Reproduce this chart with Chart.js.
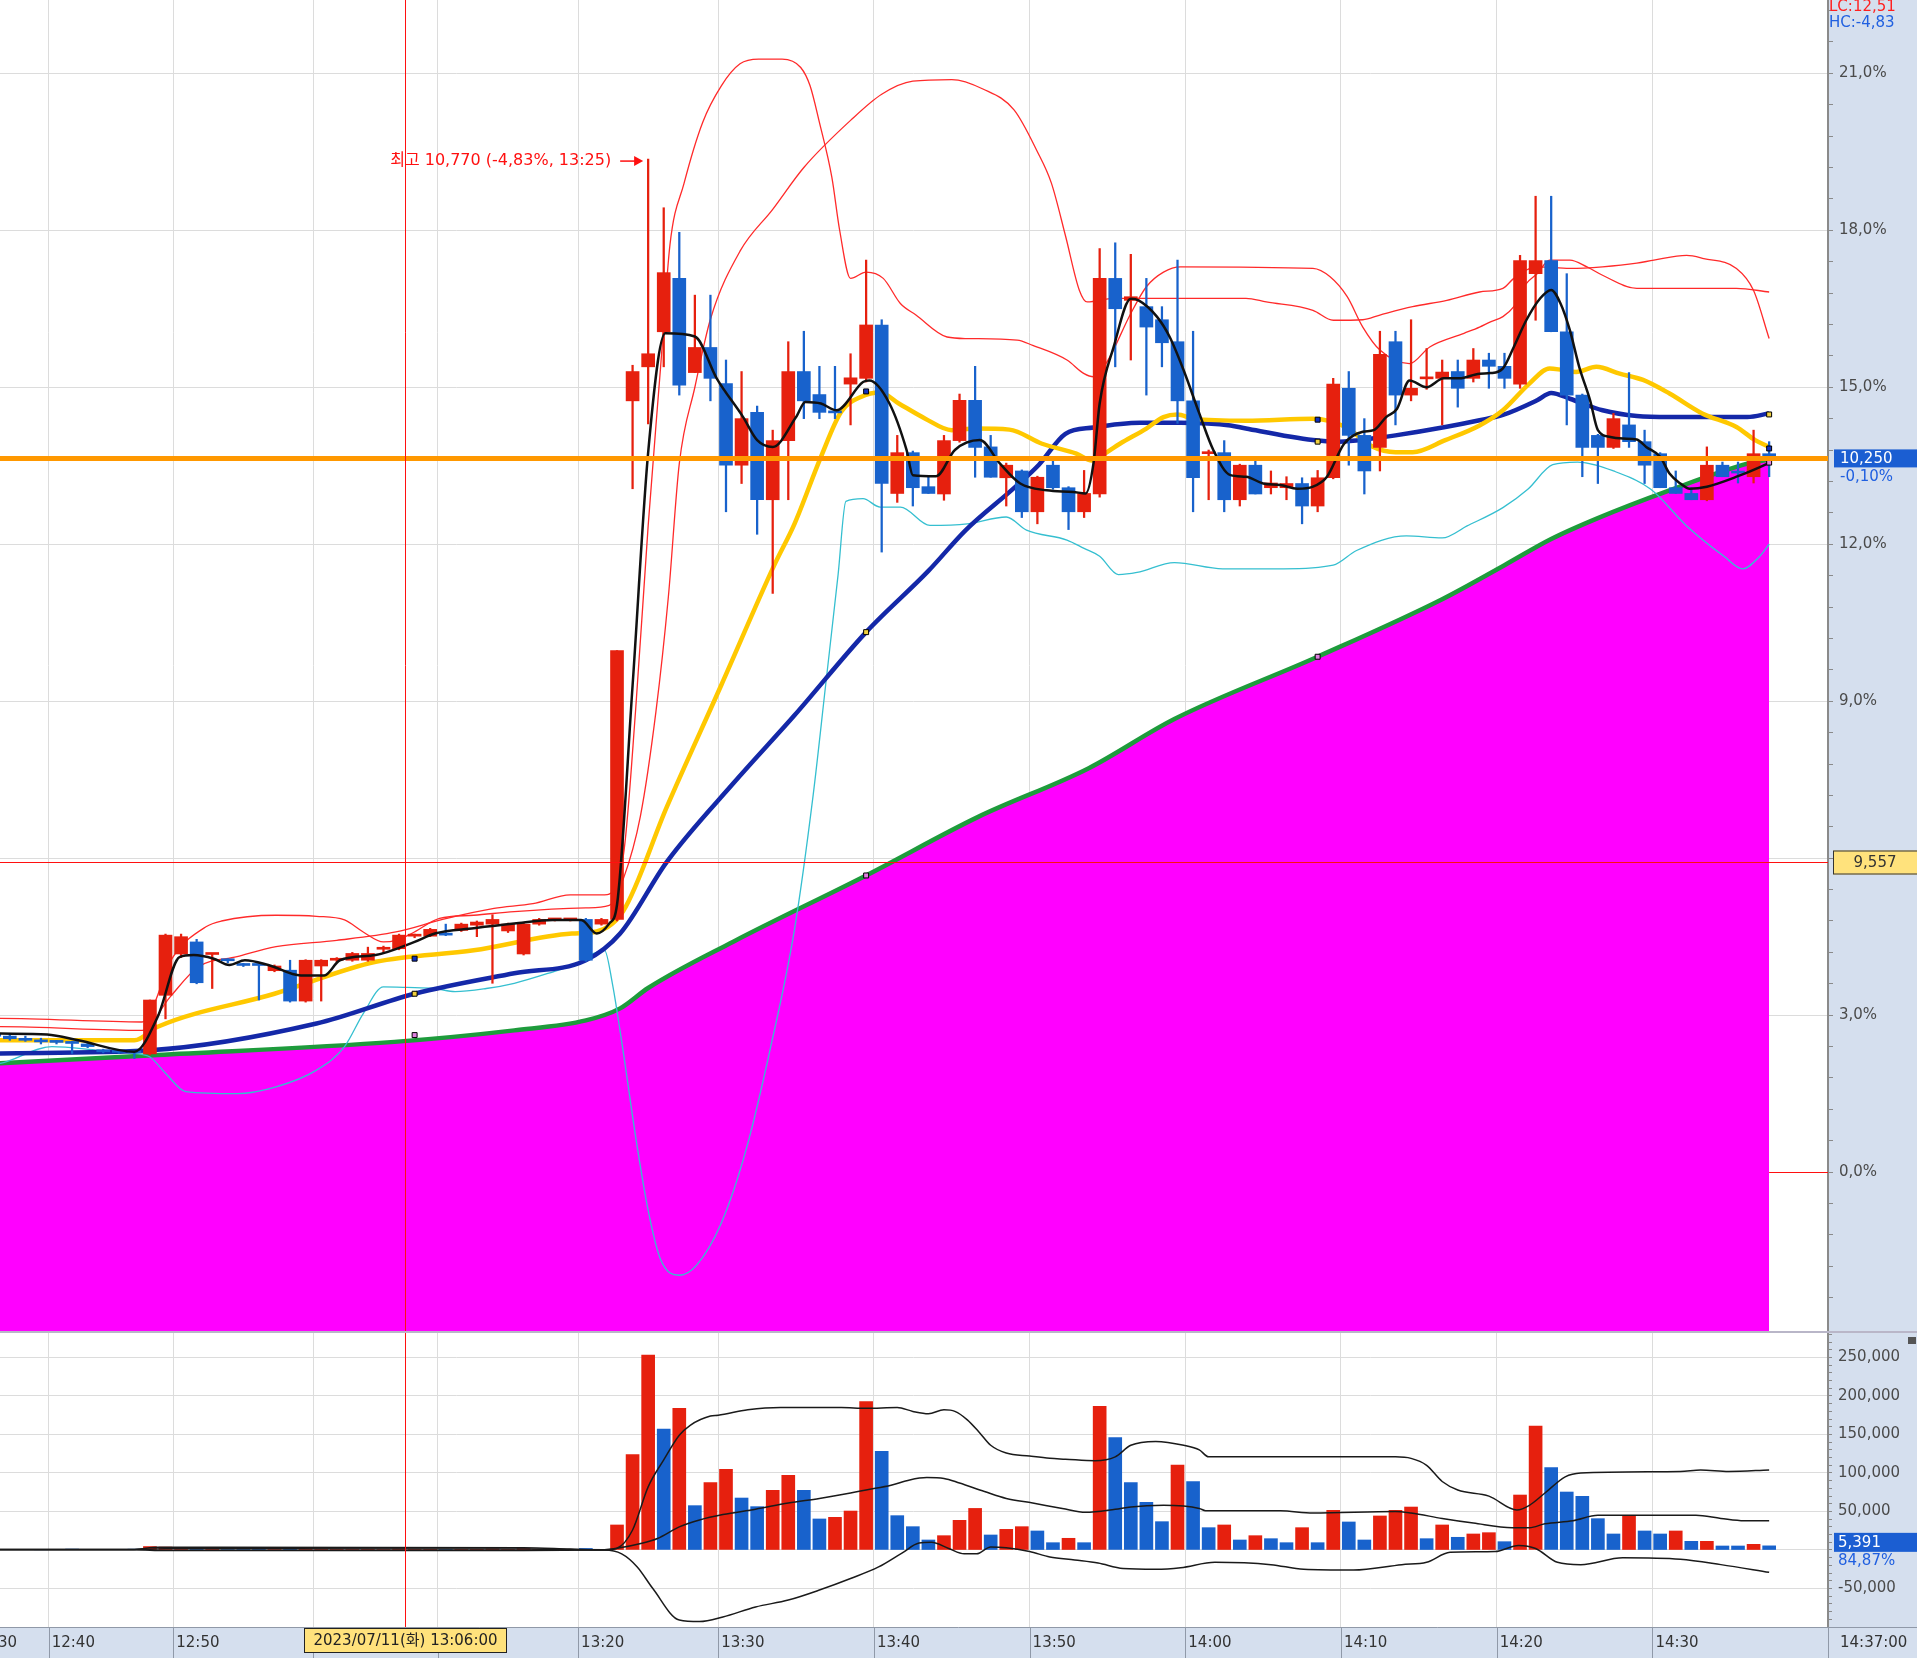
<!DOCTYPE html>
<html lang="ko">
<head>
<meta charset="utf-8">
<title>분봉 차트</title>
<script src="https://cdn.jsdelivr.net/npm/chart.js@4.4.1/dist/chart.umd.min.js"></script>
<style>
  html, body { margin: 0; padding: 0; background: #d5dfee; }
  body { width: 1917px; height: 1658px; overflow: hidden; position: relative; }
  canvas { position: absolute; left: 0; display: block; }
  #price { top: 0; }
  #volume { top: 1331px; }
</style>
</head>
<body>
<canvas id="price" width="1917" height="1331"></canvas>
<canvas id="volume" width="1917" height="327"></canvas>
<script>
// 1-minute candles, values in % on the chart's price axis
const times = [
  '12:30','12:32','12:34','12:36','12:38',
  '12:40','12:41','12:43','12:44','12:45','12:46','12:47','12:48',
  '12:50','12:51','12:52','12:53','12:54','12:55','12:56','12:57','12:59',
  '13:00','13:01','13:02','13:04','13:05','13:06','13:07','13:09',
  '13:10','13:11','13:12','13:13','13:14','13:15','13:17','13:18','13:19',
  '13:20','13:21','13:23','13:24','13:25','13:26','13:27','13:28','13:29',
  '13:30','13:31','13:32','13:33','13:34','13:35','13:36','13:37','13:38','13:39',
  '13:40','13:41','13:42','13:43','13:44','13:45','13:46','13:47','13:48','13:49',
  '13:50','13:51','13:52','13:53','13:54','13:55','13:56','13:57','13:58','13:59',
  '14:00','14:01','14:02','14:03','14:04','14:05','14:06','14:07','14:08','14:09',
  '14:10','14:11','14:12','14:13','14:14','14:15','14:16','14:17','14:18','14:19',
  '14:20','14:21','14:22','14:23','14:24','14:25','14:26','14:27','14:28','14:29',
  '14:30','14:31','14:32','14:33','14:34','14:35','14:36','14:37'
];

const openP = [
  2.60,2.62,2.60,2.55,2.52,2.50,2.49,2.45,2.33,2.31,2.30,2.26,3.38,4.17,4.40,4.16,4.06,3.97,3.97,3.85,
  3.86,3.27,3.94,4.05,4.05,4.05,4.26,4.27,4.51,4.51,4.56,4.62,4.72,4.74,4.61,4.17,4.74,4.82,4.82,4.83,
  4.74,4.83,
  14.74,15.39,16.06,17.08,15.28,15.76,15.07,13.51,14.52,12.85,13.98,15.30,14.86,14.53,15.06,15.17,16.19,12.97,
  13.75,13.10,12.96,13.98,14.75,13.86,13.27,13.40,12.62,13.51,13.08,12.62,12.96,17.08,16.66,16.54,16.29,15.87,
  14.74,13.73,13.75,12.85,13.51,13.08,13.08,13.16,12.73,13.27,14.98,14.08,13.85,15.87,14.85,15.16,15.17,15.30,
  15.17,15.52,15.40,15.06,17.17,17.42,16.06,14.85,14.08,13.85,14.28,13.96,13.73,13.08,12.97,12.85,13.51,13.38,
  13.29,13.73
];
const highP = [
  2.66,2.68,2.64,2.60,2.56,2.52,2.50,2.47,2.35,2.33,2.31,3.29,4.55,4.55,4.45,4.18,4.08,3.99,3.98,3.96,
  4.05,4.06,4.06,4.10,4.20,4.30,4.32,4.55,4.55,4.66,4.74,4.76,4.80,4.92,4.76,4.76,4.85,4.85,4.85,4.85,
  4.85,9.97,
  15.42,19.36,18.43,17.96,16.76,16.76,15.52,15.30,14.64,14.18,15.87,16.07,15.40,15.40,15.64,17.43,16.29,14.08,
  13.78,13.29,14.08,14.87,15.40,14.08,13.55,13.42,13.30,13.60,13.10,13.41,17.65,17.76,17.54,17.08,16.54,17.43,
  16.07,13.80,13.98,13.53,13.61,13.40,13.29,13.27,13.41,15.17,15.30,14.40,16.07,16.07,16.29,15.74,15.52,15.52,
  15.74,15.65,15.65,17.52,18.65,18.65,17.17,14.87,14.10,14.50,15.28,14.18,13.75,13.40,13.08,13.86,13.57,13.57,
  14.18,13.96
];
const lowP = [
  2.55,2.56,2.52,2.50,2.45,2.45,2.27,2.38,2.28,2.27,2.17,2.24,2.93,4.10,3.60,3.51,4.00,3.93,3.29,3.83,
  3.25,3.25,3.27,4.02,4.03,4.03,4.20,4.25,4.48,4.50,4.52,4.60,4.50,3.61,4.58,4.15,4.72,4.80,4.80,4.03,
  4.72,4.80,
  13.06,14.30,15.39,14.85,15.28,14.74,12.62,13.16,12.19,11.06,12.85,14.40,14.40,14.40,14.28,15.10,11.85,12.80,
  12.73,12.97,12.84,13.95,13.28,13.28,12.73,12.51,12.39,13.05,12.28,12.51,12.90,15.39,15.52,14.85,15.39,14.31,
  12.62,12.85,12.62,12.73,12.96,12.96,12.85,12.39,12.62,13.25,13.51,12.96,13.40,14.28,14.74,14.96,14.28,14.62,
  15.10,14.98,14.98,14.98,16.28,16.06,14.28,13.29,13.16,13.83,13.85,13.16,13.08,12.97,12.85,12.83,13.29,13.17,
  13.17,13.29
];
const closeP = [
  2.62,2.60,2.55,2.52,2.49,2.48,2.46,2.40,2.30,2.29,2.28,3.29,4.53,4.50,3.62,4.17,4.04,3.95,3.95,3.94,
  3.27,4.05,4.05,4.08,4.18,4.18,4.28,4.53,4.53,4.64,4.53,4.74,4.78,4.83,4.74,4.74,4.83,4.83,4.83,4.05,
  4.83,9.97,
  15.30,15.64,17.19,15.04,15.76,15.17,13.51,14.40,12.85,13.98,15.30,14.74,14.52,14.51,15.18,16.19,13.16,13.75,
  13.08,12.97,13.98,14.75,13.85,13.28,13.51,12.62,13.28,13.08,12.62,12.97,17.08,16.50,16.73,16.15,15.85,14.74,
  13.27,13.76,12.85,13.51,12.96,13.17,13.16,12.73,13.27,15.06,14.08,13.40,15.63,14.85,14.98,15.19,15.29,14.98,
  15.52,15.40,15.17,17.42,17.42,16.06,14.85,13.85,13.85,14.40,13.96,13.51,13.08,12.97,12.85,13.51,13.29,13.36,
  13.73,13.64
];
const volume = [
  600,500,400,700,300,800,1200,400,900,500,1100,4500,3800,1600,2200,900,600,500,1300,700,
  1900,1700,900,500,800,900,600,1400,500,900,700,800,1000,1500,600,1800,700,400,500,2000,
  900,
  32500,124000,253000,157000,184000,57600,87400,104800,67500,56300,77500,97000,77500,40300,42400,50600,192600,128000,
  44600,30300,13000,18600,38500,54000,19500,26800,30300,24700,9500,15200,9500,186600,145900,87400,61900,36800,
  110400,89000,29000,32500,13000,18600,14700,9500,29000,9500,51500,36400,13000,44200,51500,55800,14700,32500,
  16500,20800,22500,10800,71400,161000,107000,75300,69700,40700,20800,45000,24700,20800,24700,11300,11300,5200,
  5200,7400,5391
];
const volDir = [
  1,-1,-1,-1,-1,-1,-1,-1,-1,-1,-1,1,1,1,-1,1,-1,-1,-1,1,
  -1,1,1,1,1,1,1,1,1,1,-1,1,1,1,1,1,1,1,1,-1,
  1,
  1,1,1,-1,1,-1,1,1,-1,-1,1,1,-1,-1,1,1,1,-1,
  -1,-1,-1,1,1,1,-1,1,1,-1,-1,1,-1,1,-1,-1,-1,-1,
  1,-1,-1,1,-1,1,-1,-1,1,-1,1,-1,-1,1,1,1,-1,1,
  -1,1,1,-1,1,1,-1,-1,-1,-1,-1,1,-1,-1,1,-1,1,-1,
  -1,1,-1
];

// indicator lines as [candle index, value]
const maShort = [[-1,2.66],[0.4,2.65],[3.4,2.63],[5.4,2.52],[9,2.30],[10.5,2.97],[11.9,4.11],[12.8,4.15],[14.1,4.08],[15.1,3.96],[16.1,4.05],[17.6,3.96],[19.7,3.76],[21.2,3.76],[22.2,4.05],[24.5,4.15],[27,4.40],[28.3,4.56],[30.8,4.66],[33.4,4.75],[35.9,4.82],[37.7,4.82],[38.7,4.56],[39.5,4.75],[40,5.11],[41,9.3],[42,13.75],[43.1,16.03],[45,15.97],[46.4,15.17],[48.1,14.43],[49,13.99],[50,13.86],[51.5,14.43],[52.1,14.72],[53.1,14.69],[54.1,14.56],[55.8,15.10],[56.2,15.13],[57.5,14.69],[58.6,13.80],[59,13.32],[60.5,13.30],[61.7,13.80],[63.3,13.99],[64.6,13.54],[65.9,13.16],[67.6,13.03],[69.3,13.0],[70.1,12.97],[70.6,13.54],[71,14.69],[71.9,15.77],[73,16.69],[73.5,16.66],[74.7,16.34],[75.5,15.96],[76.4,15.32],[77.4,14.5],[78.3,13.8],[79.4,13.32],[80.4,13.29],[81.5,13.16],[82.6,13.13],[83.7,13.06],[84.7,13.10],[85.6,13.29],[86.7,13.92],[87.9,14.15],[88.6,14.18],[89.4,14.43],[90.1,14.59],[90.9,15.13],[92,15.0],[93.1,15.17],[94.1,15.17],[95.4,15.26],[96.1,15.27],[96.9,15.36],[97.6,15.77],[98.4,16.28],[99.3,16.70],[100,16.86],[100.6,16.6],[101.2,16.09],[101.8,15.39],[102.5,14.75],[103,14.18],[103.8,14.05],[104.6,14.02],[105.5,14.0],[106.1,13.86],[107,13.67],[107.6,13.35],[108.3,13.16],[108.9,13.06],[110,13.1],[112,13.3],[114,13.55]];
const maMid = [[-1,2.52],[0.4,2.52],[9,2.52],[10.5,2.78],[18,3.41],[24.5,4.02],[30.8,4.24],[37.1,4.56],[38.7,4.6],[40.4,4.99],[43.2,6.98],[46.7,9.31],[50.1,11.6],[51.4,12.39],[53.1,13.67],[54.4,14.53],[55.7,14.82],[56.9,14.9],[58.1,14.69],[59.8,14.4],[61.5,14.18],[63,14.21],[65.2,14.19],[67.3,13.92],[69.5,13.73],[70.5,13.6],[71,13.67],[72.3,13.92],[74,14.21],[75.1,14.43],[76,14.48],[77,14.4],[80.4,14.36],[84.7,14.4],[86.8,14.24],[88.5,13.87],[90,13.76],[91.1,13.76],[93.2,13.99],[95.4,14.27],[96.9,14.56],[98.6,15.07],[99.9,15.36],[100.7,15.33],[101.6,15.29],[102.9,15.39],[104.4,15.26],[105.9,15.14],[107.6,14.88],[109.7,14.5],[111.9,14.24],[113.1,13.99],[114,13.86]];
const maLong = [[-1,2.26],[0.4,2.27],[10,2.33],[20.7,2.84],[27,3.41],[33.4,3.80],[38,4.05],[40.2,4.56],[43.2,5.93],[47.5,7.44],[51.4,8.73],[56,10.32],[60,11.49],[62.4,12.27],[65.6,13.1],[67.1,13.52],[68.8,14.11],[70.6,14.23],[73.6,14.32],[76.2,14.32],[79.4,14.27],[80.4,14.21],[84.7,13.99],[86.4,13.96],[88.5,14.02],[90,14.08],[93.2,14.24],[95.4,14.37],[96.9,14.47],[99.1,14.75],[100,14.89],[101.2,14.78],[103.3,14.56],[105.5,14.45],[107.6,14.43],[112.6,14.43],[114,14.50]];
const maTrend = [[-1,2.06],[0.4,2.08],[10.5,2.24],[25.7,2.49],[33.4,2.71],[38,2.9],[40.2,3.13],[42,3.52],[47.5,4.41],[56,5.67],[63.2,6.79],[70.3,7.72],[75.8,8.66],[85,9.85],[93,10.95],[97,11.6],[100,12.1],[103,12.5],[107.6,13.03],[112.6,13.54],[114,13.62]];
const bandA = [[-1,2.78],[0.4,2.78],[9.5,2.71],[11.3,3.35],[13.1,3.92],[15.6,4.12],[18.1,4.31],[22,4.43],[25.8,4.59],[28.8,4.83],[32.1,5.04],[34.6,5.13],[37,5.3],[39.2,5.3],[40.4,6.04],[41.2,8.85],[42,12.35],[42.8,15.39],[43.4,17.72],[44.3,18.89],[45.5,20.06],[46.7,20.76],[47.9,21.18],[49.1,21.27],[50.6,21.27],[51.8,21.11],[52.4,20.76],[53,20.06],[53.8,19.01],[54.3,18.0],[55,17.08],[56,17.2],[57.1,17.08],[58.2,16.6],[59.2,16.38],[61.2,15.96],[62.5,15.93],[65.7,15.90],[66.7,15.80],[68.9,15.52],[70,15.26],[70.6,15.20],[71.4,15.45],[73,16.41],[74,16.92],[75.1,17.2],[76.2,17.3],[84.7,17.27],[85.8,17.11],[86.9,16.73],[87.9,16.15],[89,15.71],[90.9,15.45],[92.2,15.77],[94.4,16.03],[95.4,16.15],[96.1,16.25],[96.9,16.35],[97.6,16.54],[98.4,16.98],[99.1,17.17],[99.9,17.43],[101.2,17.43],[102.3,17.3],[103.3,17.14],[105.5,16.89],[107.6,16.89],[111.9,16.89],[114,16.82]];
const bandB = [[-1,2.94],[0.4,2.94],[9.5,2.87],[11.5,4.12],[13.6,4.69],[14.6,4.80],[18.1,4.91],[20.7,4.89],[22.5,4.82],[23.7,4.59],[25,4.40],[25.8,4.43],[26.8,4.56],[28.6,4.85],[30.8,4.91],[33.4,4.98],[38,5.05],[39.5,5.1],[40.4,5.6],[41.5,6.8],[42.5,8.8],[43.3,11.0],[44,13.54],[45,15.0],[46,16.3],[47.9,17.6],[50,18.4],[52,19.2],[55,20.1],[57,20.6],[59,20.85],[61.5,20.88],[63.5,20.7],[65.5,20.3],[67,19.5],[67.9,18.9],[68.8,17.9],[69.7,16.85],[70.2,16.63],[71.9,16.7],[80.4,16.7],[81.7,16.63],[84.7,16.47],[86,16.28],[87.9,16.29],[89,16.38],[91.1,16.54],[93.3,16.66],[95.4,16.82],[96.9,16.89],[97.6,17.08],[99.1,17.3],[101.2,17.27],[103.3,17.3],[105.5,17.37],[106.6,17.43],[108.7,17.52],[109.8,17.46],[111.9,17.27],[113,16.85],[114,15.93]];
const bandLow = [[-1,2.05],[0.4,2.08],[3.7,2.4],[6.7,2.33],[9,2.27],[10,2.2],[11,1.89],[12.3,1.54],[15.6,1.5],[18.1,1.63],[20.7,1.95],[22.5,2.4],[23.7,3.03],[25,3.54],[26.5,3.53],[28.3,3.51],[29.6,3.45],[31.6,3.51],[33.4,3.61],[35.9,3.83],[37.2,3.96],[38.5,4.18],[39.2,4.24],[39.7,3.61],[40.4,2.30],[41.2,0.67],[42,-0.73],[42.8,-1.67],[44,-1.97],[45.1,-1.78],[46.7,-0.97],[48.3,0.44],[49.8,2.30],[51.4,4.64],[52.6,7.21],[53.4,9.31],[54.2,11.42],[54.7,12.82],[55.8,12.87],[56.9,12.71],[58.2,12.71],[60.1,12.36],[62.5,12.39],[65,12.52],[66.3,12.27],[68.9,12.08],[70,11.92],[71,11.77],[72.2,11.42],[73.4,11.46],[75.8,11.65],[78.9,11.53],[82.8,11.53],[86,11.6],[87.5,11.88],[90.7,12.16],[93,12.12],[94.6,12.35],[96.9,12.7],[98.5,13.05],[100.1,13.52],[101.7,13.57],[104,13.4],[106.4,13.05],[108.7,12.35],[111.1,11.77],[112.3,11.53],[113.4,11.77],[114,12.0]];

const volUpper = [[-1,800],[9,800],[10.5,3500],[34,3000],[37,1200],[39.2,0],[40,2200],[41,26000],[42,82000],[43,117000],[44,149000],[44.7,162000],[46,174000],[46.5,175000],[48.4,182000],[50.5,185000],[54.4,185000],[56,184000],[58,185000],[59,180000],[60,177000],[61,182000],[61.7,180000],[62.5,169000],[63.3,152000],[64,136000],[65,126000],[66.5,122000],[67.8,119000],[68.8,118000],[70.7,116000],[72,121000],[73,136000],[74.6,141000],[76.4,136000],[77.4,130000],[78,121000],[86.5,121000],[90,121000],[91,119000],[92,110000],[93,89000],[94,78000],[96,70000],[97.8,52000],[98.6,58000],[99.6,74000],[100.9,95000],[101.9,100000],[108.3,102000],[109.6,104000],[111.4,102000],[114,104000]];
const volMid = [[-1,500],[9,500],[11,1500],[34,1200],[39.2,300],[40,2200],[41.6,8700],[42.6,15000],[44,30000],[45.3,39000],[46.8,46000],[48.9,53000],[51,61000],[53,67000],[55,74000],[56,78000],[57.6,84000],[58.8,91000],[59.9,94000],[61,93000],[62,87000],[63.6,76000],[65,67000],[66.7,61000],[68.6,54000],[70.1,49000],[72,53000],[73,56000],[75.1,58000],[77.4,54000],[77.8,51000],[82.6,51000],[84.7,48000],[90,50000],[91,48000],[93,41000],[95,35000],[97.5,29000],[98.6,29000],[99.6,34000],[101.4,38000],[103,45000],[109.3,45000],[110.9,41000],[112.4,38000],[114,38000]];
const volLower = [[-1,200],[9,200],[11,-800],[34,-700],[39.2,0],[40.3,-5000],[41.3,-22000],[42.3,-50000],[44,-91000],[45.3,-93000],[46.8,-87000],[48.9,-74000],[51,-65000],[53,-52000],[55,-37000],[56.8,-22000],[58.3,-4000],[59.4,9000],[60.2,10000],[61.3,2000],[62.3,-5000],[63.1,-5000],[64,4000],[65,3000],[66.5,-2000],[67.8,-9000],[69.4,-13000],[70.9,-17000],[72.5,-24000],[74.6,-25000],[76.2,-23000],[78.4,-16000],[82,-19000],[84.1,-25000],[87.3,-26000],[90.4,-19000],[92,-16000],[93.5,-3000],[96.4,-2000],[97.9,6000],[99,2000],[100.4,-16000],[101.9,-19000],[104.6,-10000],[108.3,-12000],[110.9,-19000],[114,-29000]];

// period markers on the averages
const markK = [27, 56, 85, 114];
const markOnMid = [4.08, 14.92, 14.38, 13.83];
const markOnLong = [3.41, 10.32, 13.96, 14.48];
const markOnTrend = [2.62, 5.67, 9.85, 13.56];

// texts shown on the screen
const lastPriceText = '10,250';
const lastChangeText = '-0,10%';
const lastVolPctText = '84,87%';
const highNote = '최고 10,770 (-4,83%, 13:25)';
const lcText = 'LC:12,51';
const hcText = 'HC:-4,83';
const clockText = '14:37:00';
const cursorK = 26.4;        // mouse cursor position
const cursorPct = 5.92;
const cursorPriceText = '9,557';
const cursorTimeText = '2023/07/11(화) 13:06:00';

// ---- drawing ----
const RED = '#e6200e';
const BLUE = '#1862cc';
const FONT = '"DejaVu Sans", "Noto Sans CJK KR", sans-serif';
const xMin = 0.37, xMax = 117.78;
const yMin = -3.035, yMax = 22.40;
const vMin = -100000, vMax = 281818;

const firstK = -1;
const candleX = times.map((t, i) => i + firstK);
const candleColor = openP.map((o, i) => closeP[i] >= o ? RED : BLUE);
const volColor = volDir.map(d => d > 0 ? RED : BLUE);
const timeTicks = [];
times.forEach((t, i) => {
  if (t.endsWith('0')) timeTicks.push({ value: candleX[i] - 0.5, label: t });
});
const pts = arr => arr.map(([x, y]) => ({ x, y }));
const crisp = v => Math.round(v) + 0.5;

function hline(ctx, x1, x2, y) { ctx.beginPath(); ctx.moveTo(x1, y); ctx.lineTo(x2, y); ctx.stroke(); }
function vline(ctx, x, y1, y2) { ctx.beginPath(); ctx.moveTo(x, y1); ctx.lineTo(x, y2); ctx.stroke(); }

function lineSet(data, color, width, order, extra) {
  return Object.assign({
    type: 'line', data: pts(data), borderColor: color, borderWidth: width,
    pointRadius: 0, cubicInterpolationMode: 'monotone', fill: false, order: order
  }, extra || {});
}
function markSet(values, color) {
  return {
    type: 'line', showLine: false, order: 1,
    data: markK.map((k, i) => ({ x: k, y: values[i] })),
    pointStyle: 'rect', pointRadius: 3.5, pointBackgroundColor: color,
    pointBorderColor: '#000', pointBorderWidth: 1
  };
}

const whiteArea = {
  id: 'whiteArea',
  beforeDraw(chart) {
    const { ctx, chartArea: a } = chart;
    ctx.save();
    ctx.fillStyle = '#ffffff';
    ctx.fillRect(a.left, a.top, a.right - a.left, a.bottom - a.top);
    ctx.restore();
  }
};

const priceDecor = {
  id: 'priceDecor',
  afterDraw(chart) {
    const { ctx, chartArea: a, scales: { x, y }, width } = chart;
    const n = closeP.length;
    ctx.save();
    ctx.lineWidth = 1;
    ctx.strokeStyle = '#ff1010';
    // previous close mark right of the last candle
    hline(ctx, x.getPixelForValue(candleX[n - 1]), a.right, crisp(y.getPixelForValue(0)));
    // cursor cross
    const cx = crisp(x.getPixelForValue(cursorK));
    const cy = crisp(y.getPixelForValue(cursorPct));
    vline(ctx, cx, a.top, a.bottom);
    hline(ctx, a.left, a.right, cy);
    // day high note
    let hi = 0;
    highP.forEach((h, i) => { if (h > highP[hi]) hi = i; });
    const hx = x.getPixelForValue(candleX[hi]);
    const hy = y.getPixelForValue(highP[hi]) + 2;
    ctx.fillStyle = '#ff1010';
    ctx.font = '16px ' + FONT;
    ctx.textAlign = 'right';
    ctx.textBaseline = 'middle';
    ctx.fillText(highNote, hx - 37, hy);
    ctx.lineWidth = 1.5;
    hline(ctx, hx - 28, hx - 12, hy);
    ctx.beginPath();
    ctx.moveTo(hx - 5, hy); ctx.lineTo(hx - 14, hy - 5); ctx.lineTo(hx - 14, hy + 5);
    ctx.closePath(); ctx.fill();
    // last price box
    const ly = y.getPixelForValue(closeP[n - 1]);
    ctx.font = '15px ' + FONT;
    ctx.textAlign = 'left';
    ctx.fillStyle = '#1b5ed2';
    ctx.fillRect(a.right + 6, ly - 9, width - a.right - 6, 18);
    ctx.fillStyle = '#ffffff';
    ctx.fillText(lastPriceText, a.right + 12, ly + 1);
    ctx.fillStyle = '#1f5fe0';
    ctx.fillText(lastChangeText, a.right + 12, ly + 19);
    // cursor price box
    ctx.fillStyle = '#ffe27c';
    ctx.fillRect(a.right + 5, cy - 12, width - a.right - 5, 24);
    ctx.strokeStyle = '#333333';
    ctx.lineWidth = 1;
    ctx.strokeRect(a.right + 5.5, cy - 11.5, width - a.right - 5, 23);
    ctx.fillStyle = '#333333';
    ctx.textAlign = 'center';
    ctx.fillText(cursorPriceText, (a.right + 5 + width) / 2, cy + 1);
    // LC / HC
    ctx.textAlign = 'left';
    ctx.textBaseline = 'top';
    ctx.fillStyle = '#ff2020';
    ctx.fillText(lcText, a.right + 1, 0);
    ctx.fillStyle = '#2060e0';
    ctx.fillText(hcText, a.right + 1, 16);
    ctx.restore();
  }
};

const volDecor = {
  id: 'volDecor',
  afterDraw(chart) {
    const { ctx, chartArea: a, scales: { x, y }, width, height } = chart;
    const n = volume.length;
    ctx.save();
    ctx.fillStyle = '#b9b6c8';
    ctx.fillRect(0, 0, width, 2);
    ctx.strokeStyle = '#9099a8';
    ctx.lineWidth = 1;
    hline(ctx, 0, width, a.bottom + 0.5);
    timeTicks.forEach(t => {
      const px = x.getPixelForValue(t.value);
      if (px >= a.left && px <= a.right) vline(ctx, crisp(px), a.bottom, height);
    });
    vline(ctx, a.right + 0.5, a.bottom, height);
    // cursor line and time box
    const cx = crisp(x.getPixelForValue(cursorK));
    ctx.strokeStyle = '#ff1010';
    vline(ctx, cx, a.top, a.bottom);
    ctx.font = '15px ' + FONT;
    ctx.textBaseline = 'middle';
    ctx.textAlign = 'center';
    const tw = 202;
    ctx.fillStyle = '#ffe27c';
    ctx.fillRect(cx - tw / 2, a.bottom + 1, tw, 25);
    ctx.strokeStyle = '#222222';
    ctx.strokeRect(cx - tw / 2, a.bottom + 1.5, tw, 24);
    ctx.fillStyle = '#222222';
    ctx.fillText(cursorTimeText, cx, a.bottom + 14);
    // clock
    ctx.textAlign = 'left';
    ctx.fillStyle = '#333333';
    ctx.fillText(clockText, a.right + 12, a.bottom + 16);
    // last volume box
    const vy = y.getPixelForValue(volume[n - 1]) - 4;
    ctx.fillStyle = '#1b5ed2';
    ctx.fillRect(a.right + 6, vy - 9, width - a.right - 6, 19);
    ctx.fillStyle = '#ffffff';
    ctx.fillText(volume[n - 1].toLocaleString('en-US'), a.right + 10, vy + 1);
    ctx.fillStyle = '#1f5fe0';
    ctx.fillText(lastVolPctText, a.right + 10, vy + 19);
    ctx.fillStyle = '#555555';
    ctx.fillRect(width - 9, 6, 8, 7);
    ctx.restore();
  }
};

const tickFont = { family: FONT, size: 15 };

new Chart(document.getElementById('price'), {
  type: 'bar',
  data: {
    datasets: [
      lineSet([[-5, closeP[closeP.length - 1]], [130, closeP[closeP.length - 1]]], '#ff9800', 5, 0,
        { cubicInterpolationMode: 'default' }),
      markSet(markOnMid, '#1030c0'),
      markSet(markOnLong, '#f0d040'),
      markSet(markOnTrend, '#e080e0'),
      lineSet(maShort, '#111111', 2.5, 2),
      {
        type: 'bar', order: 3, grouped: false, barThickness: 13, minBarLength: 2,
        data: candleX.map((x, i) => ({ x, y: [openP[i], closeP[i]] })),
        backgroundColor: candleColor
      },
      {
        type: 'bar', order: 4, grouped: false, barThickness: 1.6,
        data: candleX.map((x, i) => ({ x, y: [lowP[i], highP[i]] })),
        backgroundColor: candleColor
      },
      lineSet(maMid, '#ffc800', 4.5, 5),
      lineSet(maLong, '#1428a8', 4.5, 5),
      lineSet(bandA, '#ff2a2a', 1.3, 6),
      lineSet(bandB, '#ff2a2a', 1.3, 6),
      lineSet(bandLow, '#35bfd0', 1.3, 6),
      lineSet(maTrend, '#1e9b3c', 4.5, 7, { fill: 'start', backgroundColor: '#ff00ff' })
    ]
  },
  options: {
    responsive: false, animation: false, events: [], devicePixelRatio: 1,
    layout: { padding: 0, autoPadding: false },
    plugins: { legend: { display: false }, tooltip: { enabled: false } },
    scales: {
      x: {
        type: 'linear', min: xMin, max: xMax, offset: false,
        afterBuildTicks: s => { s.ticks = timeTicks.map(t => ({ value: t.value })); },
        afterFit: s => { s.height = 0; s.paddingLeft = 0; s.paddingRight = 0; },
        ticks: { display: false, autoSkip: false },
        grid: { color: '#dcdcdc', drawTicks: false, offset: false },
        border: { display: false }
      },
      y: {
        position: 'right', min: yMin, max: yMax,
        afterBuildTicks: s => {
          const t = [];
          for (let v = -24; v <= 222; v += 6) t.push({ value: v / 10 });
          s.ticks = t;
        },
        afterFit: s => { s.width = 89; s.paddingTop = 0; s.paddingBottom = 0; },
        ticks: {
          autoSkip: false, padding: 6, color: '#4a4a4a', font: tickFont,
          callback: v => {
            const t = Math.round(v * 10);
            // the cursor price box sits over the label next to it
            if (Math.abs(v - cursorPct) < 0.4) return '';
            return (t % 30 === 0 && t >= 0) ? (t / 10).toFixed(1).replace('.', ',') + '%' : '';
          }
        },
        grid: {
          color: c => (c.tick && Math.round(c.tick.value * 10) % 30 === 0) ? '#dcdcdc' : 'rgba(0,0,0,0)',
          tickColor: '#8a8a8a', tickLength: 5
        },
        border: { color: '#8a8a8a', width: 2 }
      }
    }
  },
  plugins: [whiteArea, priceDecor]
});

new Chart(document.getElementById('volume'), {
  type: 'bar',
  data: {
    datasets: [
      lineSet(volUpper, '#1a1a1a', 1.5, 0),
      lineSet(volMid, '#1a1a1a', 1.5, 0),
      lineSet(volLower, '#1a1a1a', 1.5, 0),
      {
        type: 'bar', order: 1, grouped: false, barThickness: 13,
        data: candleX.map((x, i) => ({ x, y: volume[i] })),
        backgroundColor: volColor
      }
    ]
  },
  options: {
    responsive: false, animation: false, events: [], devicePixelRatio: 1,
    layout: { padding: { top: 2, left: 0, right: 0, bottom: 0 }, autoPadding: false },
    plugins: { legend: { display: false }, tooltip: { enabled: false } },
    scales: {
      x: {
        type: 'linear', min: xMin, max: xMax, offset: false,
        afterBuildTicks: s => { s.ticks = timeTicks.map(t => ({ value: t.value })); },
        afterFit: s => { s.height = 31; s.paddingLeft = 0; s.paddingRight = 0; },
        ticks: {
          autoSkip: false, maxRotation: 0, minRotation: 0, align: 'start', labelOffset: 3,
          padding: 7, color: '#333333', font: tickFont,
          callback: (v, i) => timeTicks[i].label
        },
        grid: { color: '#dcdcdc', drawTicks: false, offset: false },
        border: { display: false }
      },
      y: {
        position: 'right', min: vMin, max: vMax,
        afterBuildTicks: s => {
          const t = [];
          for (let v = -90000; v <= 280000; v += 10000) t.push({ value: v });
          s.ticks = t;
        },
        afterFit: s => { s.width = 89; s.paddingTop = 0; s.paddingBottom = 0; },
        ticks: {
          autoSkip: false, padding: 6, color: '#4a4a4a', font: tickFont,
          callback: v => (v % 50000 === 0 && v !== 0) ? v.toLocaleString('en-US') : ''
        },
        grid: {
          color: c => (c.tick && c.tick.value % 50000 === 0) ? '#dcdcdc' : 'rgba(0,0,0,0)',
          tickColor: '#8a8a8a', tickLength: 4
        },
        border: { color: '#8a8a8a', width: 2 }
      }
    }
  },
  plugins: [whiteArea, volDecor]
});
</script>
</body>
</html>
